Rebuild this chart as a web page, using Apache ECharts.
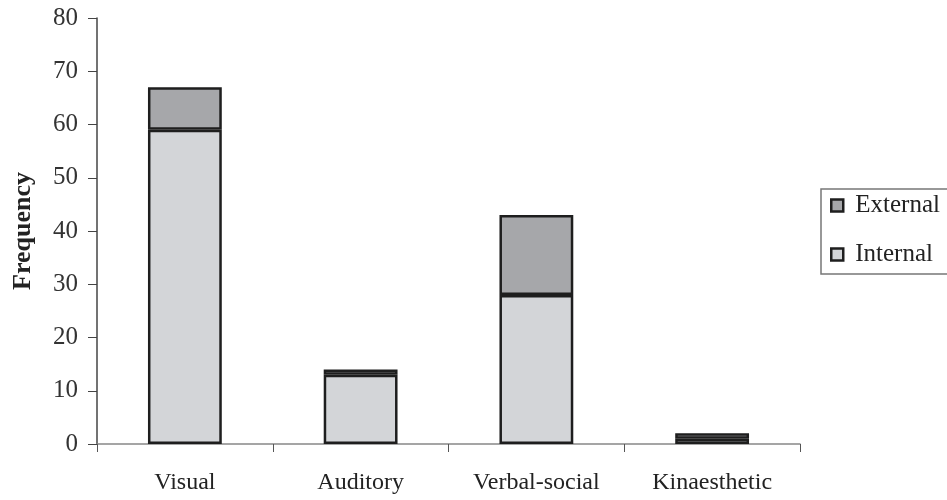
<!DOCTYPE html>
<html><head><meta charset="utf-8">
<script src="https://cdn.jsdelivr.net/npm/echarts@6/dist/echarts.min.js"></script>
<style>html,body{margin:0;padding:0;background:#fff}#c{width:947px;height:500px}</style>
</head><body><div id="c"></div>
<script>
var categories = ['Visual', 'Auditory', 'Verbal-social', 'Kinaesthetic'];
var internalValues = [59, 13, 28, 1];
var externalValues = [8, 1, 15, 1];
var yTicks = [0, 10, 20, 30, 40, 50, 60, 70, 80];

var chart = echarts.init(document.getElementById('c'));
var font = '"Liberation Serif", "Times New Roman", serif';
var barBorder = {borderColor: '#1e1e1e', borderWidth: 2.5};
chart.setOption({
  animation: false,
  backgroundColor: '#fff',
  grid: {left: 97, right: 147, top: 18, bottom: 56},
  legend: {
    orient: 'vertical', left: 821, top: 189,
    padding: [4, 40, 7, 9], itemGap: 24,
    borderColor: '#777', borderWidth: 1.5,
    icon: 'rect', itemWidth: 12, itemHeight: 12,
    itemStyle: {borderColor: '#1e1e1e', borderWidth: 2.5},
    textStyle: {fontFamily: font, fontSize: 25, lineHeight: 25, color: '#222', padding: [0, 0, 0, 7]},
    data: ['External', 'Internal']
  },
  xAxis: {
    type: 'category', data: categories,
    axisLine: {lineStyle: {color: '#888', width: 1.5}},
    axisTick: {show: true, length: 8, lineStyle: {color: '#555'}},
    axisLabel: {fontFamily: font, fontSize: 24, color: '#222', margin: 27}
  },
  yAxis: {
    type: 'value', min: yTicks[0], max: yTicks[yTicks.length - 1], interval: 10,
    name: 'Frequency', nameLocation: 'middle', nameGap: 61,
    nameTextStyle: {fontFamily: font, fontSize: 26, fontWeight: 'bold', color: '#222'},
    axisLine: {show: true, lineStyle: {color: '#444', width: 1.5}},
    axisTick: {show: true, length: 9, lineStyle: {color: '#444'}},
    axisLabel: {fontFamily: font, fontSize: 25, color: '#333', margin: 19},
    splitLine: {show: false}
  },
  series: [
    {name: 'Internal', type: 'bar', stack: 't', barWidth: '42%', data: internalValues,
     itemStyle: Object.assign({color: '#d3d5d8'}, barBorder)},
    {name: 'External', type: 'bar', stack: 't', barWidth: '42%', data: externalValues,
     itemStyle: Object.assign({color: '#a6a7aa'}, barBorder)}
  ]
});
</script></body></html>
